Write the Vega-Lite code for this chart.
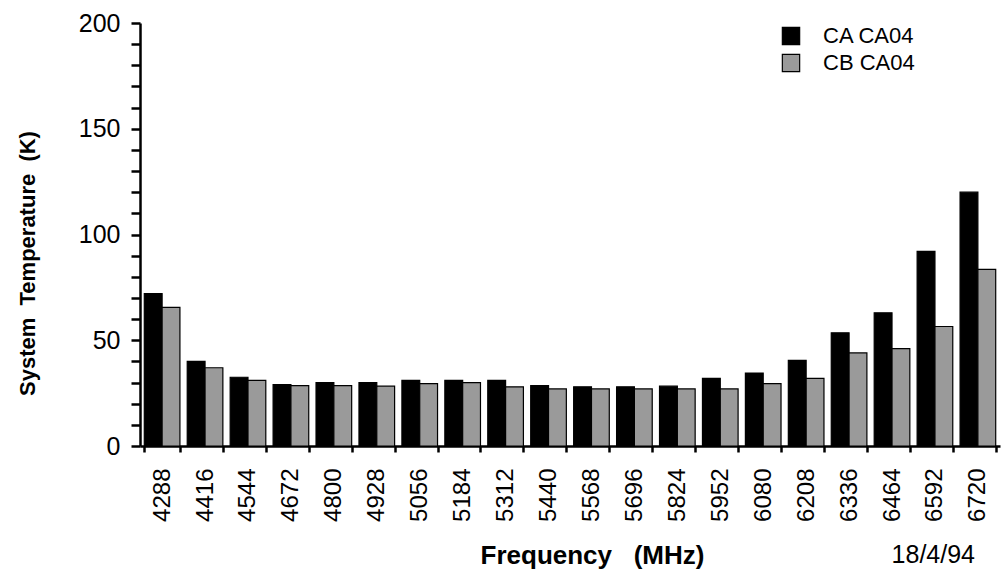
{
  "$schema": "https://vega.github.io/schema/vega-lite/v6.json",
  "width": 860,
  "height": 423,
  "autosize": {"type": "none"},
  "padding": {"left": 140, "top": 23, "right": 4, "bottom": 135},
  "background": "white",
  "title": {
    "text": "18/4/94",
    "orient": "bottom",
    "anchor": "end",
    "frame": "group",
    "offset": -25,
    "dx": -25,
    "font": "Liberation Sans",
    "fontSize": 25,
    "fontWeight": "normal",
    "color": "black"
  },
  "config": {
    "view": {"stroke": null},
    "font": "Liberation Sans"
  },
  "data": {
    "values": [
      {"freq": "4288", "series": "CA CA04", "temp": 72},
      {"freq": "4288", "series": "CB CA04", "temp": 65.5},
      {"freq": "4416", "series": "CA CA04", "temp": 40},
      {"freq": "4416", "series": "CB CA04", "temp": 37},
      {"freq": "4544", "series": "CA CA04", "temp": 32.5},
      {"freq": "4544", "series": "CB CA04", "temp": 31},
      {"freq": "4672", "series": "CA CA04", "temp": 29},
      {"freq": "4672", "series": "CB CA04", "temp": 28.5},
      {"freq": "4800", "series": "CA CA04", "temp": 30},
      {"freq": "4800", "series": "CB CA04", "temp": 28.5},
      {"freq": "4928", "series": "CA CA04", "temp": 30},
      {"freq": "4928", "series": "CB CA04", "temp": 28.3},
      {"freq": "5056", "series": "CA CA04", "temp": 31},
      {"freq": "5056", "series": "CB CA04", "temp": 29.5},
      {"freq": "5184", "series": "CA CA04", "temp": 31},
      {"freq": "5184", "series": "CB CA04", "temp": 30},
      {"freq": "5312", "series": "CA CA04", "temp": 31},
      {"freq": "5312", "series": "CB CA04", "temp": 28},
      {"freq": "5440", "series": "CA CA04", "temp": 28.5},
      {"freq": "5440", "series": "CB CA04", "temp": 27},
      {"freq": "5568", "series": "CA CA04", "temp": 28},
      {"freq": "5568", "series": "CB CA04", "temp": 27},
      {"freq": "5696", "series": "CA CA04", "temp": 28},
      {"freq": "5696", "series": "CB CA04", "temp": 27},
      {"freq": "5824", "series": "CA CA04", "temp": 28.3},
      {"freq": "5824", "series": "CB CA04", "temp": 27},
      {"freq": "5952", "series": "CA CA04", "temp": 32},
      {"freq": "5952", "series": "CB CA04", "temp": 27},
      {"freq": "6080", "series": "CA CA04", "temp": 34.5},
      {"freq": "6080", "series": "CB CA04", "temp": 29.5},
      {"freq": "6208", "series": "CA CA04", "temp": 40.5},
      {"freq": "6208", "series": "CB CA04", "temp": 32},
      {"freq": "6336", "series": "CA CA04", "temp": 53.5},
      {"freq": "6336", "series": "CB CA04", "temp": 44},
      {"freq": "6464", "series": "CA CA04", "temp": 63},
      {"freq": "6464", "series": "CB CA04", "temp": 46},
      {"freq": "6592", "series": "CA CA04", "temp": 92},
      {"freq": "6592", "series": "CB CA04", "temp": 56.5},
      {"freq": "6720", "series": "CA CA04", "temp": 120},
      {"freq": "6720", "series": "CB CA04", "temp": 83.5}
    ]
  },
  "mark": {"type": "bar", "stroke": "black", "strokeWidth": 1.2},
  "encoding": {
    "x": {
      "field": "freq",
      "type": "nominal",
      "sort": null,
      "scale": {"paddingInner": 0.17, "paddingOuter": 0.1},
      "axis": {
        "title": "Frequency\u00a0\u00a0\u00a0(MHz)",
        "titleFont": "Liberation Sans",
        "titleFontSize": 26,
        "titleFontWeight": "bold",
        "titleColor": "black",
        "titleX": 452,
        "titleY": 117,
        "titleBaseline": "alphabetic",
        "labelAngle": -90,
        "labelFont": "Liberation Sans",
        "labelFontSize": 24,
        "labelColor": "black",
        "labelPadding": 16,
        "tickBand": "extent",
        "tickSize": 6,
        "tickWidth": 2.5,
        "tickColor": "black",
        "domainColor": "black",
        "domainWidth": 2.5
      }
    },
    "xOffset": {
      "field": "series",
      "type": "nominal",
      "scale": {"paddingInner": 0, "paddingOuter": 0}
    },
    "y": {
      "field": "temp",
      "type": "quantitative",
      "scale": {"domain": [0, 200], "nice": false},
      "axis": {
        "title": "System\u00a0\u00a0Temperature\u00a0\u00a0(K)",
        "titleFont": "Liberation Sans",
        "titleFontSize": 22,
        "titleFontWeight": "bold",
        "titleColor": "black",
        "titleX": -113,
        "titleY": 240,
        "titleBaseline": "middle",
        "titleAlign": "center",
        "titleAngle": -90,
        "tickCount": 20,
        "labelOverlap": false,
        "labelFont": "Liberation Sans",
        "labelFontSize": 25,
        "labelColor": "black",
        "labelOpacity": {"condition": {"test": "datum.value % 50 === 0", "value": 1}, "value": 0},
        "labelPadding": 11,
        "ticks": true,
        "tickSize": 9,
        "tickWidth": 2.5,
        "tickColor": "black",
        "domainColor": "black",
        "domainWidth": 2.5,
        "grid": false
      }
    },
    "fill": {
      "field": "series",
      "type": "nominal",
      "scale": {"domain": ["CA CA04", "CB CA04"], "range": ["#000000", "#9a9a9a"]},
      "legend": {
        "title": null,
        "orient": "none",
        "legendX": 640,
        "legendY": 2,
        "symbolType": "square",
        "symbolSize": 300,
        "symbolStrokeColor": "black",
        "symbolStrokeWidth": 1.2,
        "labelFont": "Liberation Sans",
        "labelFontSize": 22,
        "labelColor": "black",
        "labelOffset": 21,
        "rowPadding": 3
      }
    }
  }
}
